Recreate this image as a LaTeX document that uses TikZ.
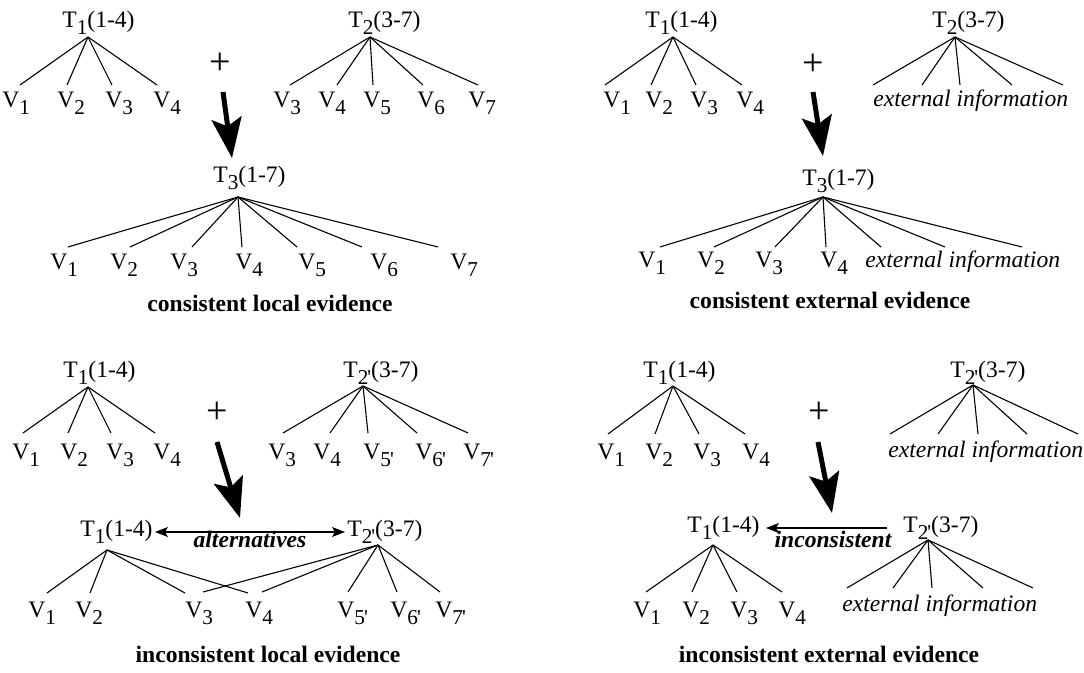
\documentclass[tikz,border=0pt]{standalone}
\usepackage{fontspec}
\setmainfont{Liberation Serif}
\usetikzlibrary{arrows.meta,positioning,calc}
\newcommand{\sbs}[1]{\raisebox{-3.2pt}{\fontsize{10.6}{12}\selectfont #1}}
\newcommand{\pr}{\kern-0.5pt\textquotesingle}
\tikzset{
  lbl/.style={anchor=base west, inner sep=0pt, font=\fontsize{11.8}{14}\selectfont},
  extinfo/.style={lbl, font=\fontsize{11.8}{14}\selectfont\itshape},
  relname/.style={anchor=base, inner sep=0pt, font=\fontsize{11.8}{14}\selectfont\bfseries\itshape},
  capt/.style={anchor=base, inner sep=0pt, font=\fontsize{11.8}{14}\selectfont\bfseries},
  plusmark/.style={inner sep=0pt, font=\fontsize{19}{20}\selectfont},
  branch/.style={line width=0.55pt},
  bigarr/.style={-{Stealth[length=20pt,width=15pt,inset=4pt]}, line width=2.5pt},
  relarr/.style={-{Stealth[length=6.5pt,width=5pt,inset=1.5pt]}, line width=0.6pt},
  relboth/.style={{Stealth[length=6.5pt,width=5pt,inset=1.5pt]}-{Stealth[length=6.5pt,width=5pt,inset=1.5pt]}, line width=0.6pt},
}

\begin{document}
\begin{tikzpicture}[x=0.5pt,y=-0.5pt]
  \useasboundingbox (0,0) rectangle (1084,673);

  % consistent local evidence
  \node[lbl] (a1) at (62,28) {T\sbs{1}(1-4)};
  \coordinate (a1r) at (88,37);
  \foreach \ex/\lx/\t [count=\i] in {20/2/1, 67/57/2, 112/105/3, 157/153/4}{
    \coordinate (a1e\i) at (\ex,85);
    \node[lbl] (a1v\i) at (\lx,108) {V\sbs{\t}};
    \draw[branch] (a1r) -- (a1e\i);}
  \node[plusmark] (aplus) at (220,64) {+};
  \node[lbl] (a2) at (348,28) {T\sbs{2}(3-7)};
  \coordinate (a2r) at (370,37);
  \foreach \ex/\lx/\t [count=\i] in {290/273/3, 337/318/4, 373/363/5, 423/417/6, 478/468/7}{
    \coordinate (a2e\i) at (\ex,85);
    \node[lbl] (a2v\i) at (\lx,108) {V\sbs{\t}};
    \draw[branch] (a2r) -- (a2e\i);}
  \coordinate (aas) at (223,92);
  \coordinate (aat) at (232,158);
  \draw[bigarr] (aas) -- (aat);
  \node[lbl] (a3) at (213,183) {T\sbs{3}(1-7)};
  \coordinate (a3r) at (238,197);
  \foreach \ex/\lx/\t [count=\i] in {68/50/1, 130/110/2, 192/170/3, 242/235/4, 297/298/5, 362/370/6, 438/450/7}{
    \coordinate (a3e\i) at (\ex,247);
    \node[lbl] (a3v\i) at (\lx,270) {V\sbs{\t}};
    \draw[branch] (a3r) -- (a3e\i);}
  \node[capt] (acap) at (270,312) {consistent local evidence};

  % consistent external evidence
  \node[lbl] (b1) at (645,28) {T\sbs{1}(1-4)};
  \coordinate (b1r) at (673,37);
  \foreach \ex/\lx/\t [count=\i] in {605/603/1, 651/645/2, 696/690/3, 742/736/4}{
    \coordinate (b1e\i) at (\ex,85);
    \node[lbl] (b1v\i) at (\lx,108) {V\sbs{\t}};
    \draw[branch] (b1r) -- (b1e\i);}
  \node[plusmark] (bplus) at (813,65) {+};
  \node[lbl] (b2) at (932,28) {T\sbs{2}(3-7)};
  \coordinate (b2r) at (955,37);
  \foreach \ex [count=\i] in {873,922,960,1012,1063}{
    \coordinate (b2e\i) at (\ex,85);
    \draw[branch] (b2r) -- (b2e\i);}
  \node[extinfo] (b2x) at (873,107) {external information};
  \coordinate (bas) at (813,92);
  \coordinate (bat) at (823,156);
  \draw[bigarr] (bas) -- (bat);
  \node[lbl] (b3) at (802,186) {T\sbs{3}(1-7)};
  \coordinate (b3r) at (823,197);
  \foreach \ex [count=\i] in {660,714,775,826,881,945,1022}{
    \coordinate (b3e\i) at (\ex,247);
    \draw[branch] (b3r) -- (b3e\i);}
  \foreach \lx/\t [count=\i] in {638/1, 697/2, 755/3, 820/4}{
    \node[lbl] (b3v\i) at (\lx,268) {V\sbs{\t}};}
  \node[extinfo] (b3x) at (865,268) {external information};
  \node[capt] (bcap) at (830,309) {consistent external evidence};

  % inconsistent local evidence
  \node[lbl] (c1) at (63,378) {T\sbs{1}(1-4)};
  \coordinate (c1r) at (88,387);
  \foreach \ex/\lx/\t [count=\i] in {23/12/1, 68/60/2, 111/106/3, 155/153/4}{
    \coordinate (c1e\i) at (\ex,433);
    \node[lbl] (c1v\i) at (\lx,460) {V\sbs{\t}};
    \draw[branch] (c1r) -- (c1e\i);}
  \node[plusmark] (cplus) at (217,413) {+};
  \node[lbl] (c2) at (343,378) {T\sbs{2\pr}(3-7)};
  \coordinate (c2r) at (363,386);
  \foreach \ex/\lx/\t [count=\i] in {283/268/3, 330/313/4, 368/363/5\pr, 417/415/6\pr, 468/463/7\pr}{
    \coordinate (c2e\i) at (\ex,433);
    \node[lbl] (c2v\i) at (\lx,460) {V\sbs{\t}};
    \draw[branch] (c2r) -- (c2e\i);}
  \coordinate (cas) at (217,442);
  \coordinate (cat) at (240,518);
  \draw[bigarr] (cas) -- (cat);
  \node[lbl] (c3) at (80,537) {T\sbs{1}(1-4)};
  \node[lbl] (c4) at (347,537) {T\sbs{2\pr}(3-7)};
  \draw[relboth, shorten <=1pt, shorten >=1pt] (c3.east) -- (c4.west);
  \node[relname] (calt) at (250,548) {alternatives};
  \coordinate (c3r) at (107,550);
  \coordinate (c4r) at (378,545);
  \foreach \ex/\lx/\t [count=\i] in {47/28/1, 90/75/2, 185/185/3, 248/245/4}{
    \coordinate (c3e\i) at (\ex,593);
    \node[lbl] (c3v\i) at (\lx,618) {V\sbs{\t}};
    \draw[branch] (c3r) -- (c3e\i);}
  \coordinate (c4e1) at (203,592);
  \coordinate (c4e2) at (262,592);
  \draw[branch] (c4r) -- (c4e1);
  \draw[branch] (c4r) -- (c4e2);
  \foreach \ex/\lx/\t [count=\i from 3] in {348/337/5\pr, 397/390/6\pr, 440/435/7\pr}{
    \coordinate (c4e\i) at (\ex,592);
    \node[lbl] (c4v\i) at (\lx,618) {V\sbs{\t}};
    \draw[branch] (c4r) -- (c4e\i);}
  \node[capt] (ccap) at (268,663) {inconsistent local evidence};

  % inconsistent external evidence
  \node[lbl] (d1) at (643,378) {T\sbs{1}(1-4)};
  \coordinate (d1r) at (673,386);
  \foreach \ex/\lx/\t [count=\i] in {608/597/1, 655/645/2, 699/693/3, 745/742/4}{
    \coordinate (d1e\i) at (\ex,434);
    \node[lbl] (d1v\i) at (\lx,460) {V\sbs{\t}};
    \draw[branch] (d1r) -- (d1e\i);}
  \node[plusmark] (dplus) at (819,413) {+};
  \node[lbl] (d2) at (950,378) {T\sbs{2\pr}(3-7)};
  \coordinate (d2r) at (973,385);
  \foreach \ex [count=\i] in {890,938,978,1027,1078}{
    \coordinate (d2e\i) at (\ex,434);
    \draw[branch] (d2r) -- (d2e\i);}
  \node[extinfo] (d2x) at (888,458) {external information};
  \coordinate (das) at (818,442);
  \coordinate (dat) at (832,513);
  \draw[bigarr] (das) -- (dat);
  \node[lbl] (d3) at (687,533) {T\sbs{1}(1-4)};
  \node[lbl] (d4) at (903,533) {T\sbs{2\pr}(3-7)};
  \draw[relarr, shorten <=8pt, shorten >=3pt] (d4.west) -- (d3.east);
  \node[relname] (dinc) at (833,548) {inconsistent};
  \coordinate (d3r) at (713,545);
  \coordinate (d4r) at (928,540);
  \foreach \ex/\lx/\t [count=\i] in {646/633/1, 692/682/2, 737/730/3, 782/778/4}{
    \coordinate (d3e\i) at (\ex,592);
    \node[lbl] (d3v\i) at (\lx,618) {V\sbs{\t}};
    \draw[branch] (d3r) -- (d3e\i);}
  \foreach \ex [count=\i] in {847,893,932,983,1033}{
    \coordinate (d4e\i) at (\ex,588);
    \draw[branch] (d4r) -- (d4e\i);}
  \node[extinfo] (d4x) at (842,612) {external information};
  \node[capt] (dcap) at (829,663) {inconsistent external evidence};
\end{tikzpicture}
\end{document}
